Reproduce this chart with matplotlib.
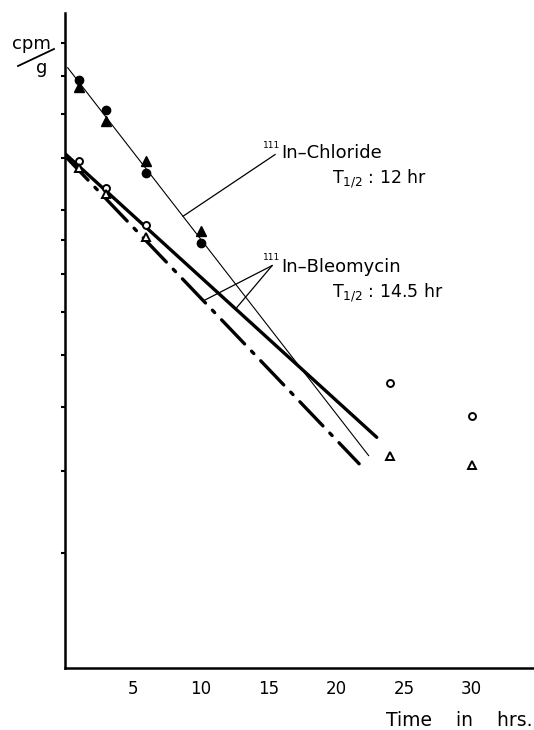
import matplotlib
matplotlib.use("Agg")
import matplotlib.pyplot as plt
from matplotlib.lines import Line2D

# ---- data ----
t_early = [1, 3, 6, 10]
chloride_circle = [15.8, 14.2, 11.4, 8.9]
chloride_triangle = [15.4, 13.7, 11.9, 9.3]

bleo_t = [1, 3, 6, 24, 30]
bleo_circle = [11.9, 10.8, 9.5, 5.45, 4.85]
bleo_triangle = [11.6, 10.6, 9.1, 4.22, 4.08]

# fitted decay lines (end points)
chloride_fit_t = [0.2, 22.4]
chloride_fit_v = [16.5, 4.22]
bleo_solid_t = [0.0, 23.0]
bleo_solid_v = [12.2, 4.5]
bleo_dashdot_t = [0.0, 21.7]
bleo_dashdot_v = [12.1, 4.1]

x_ticks = [5, 10, 15, 20, 25, 30]
y_ticks = [3, 4, 5, 6, 7, 8, 9, 10, 12, 14, 16, 18]

# ---- figure ----
W, H = 534, 730
fig = plt.figure(figsize=(W / 100, H / 100), dpi=100)
plt.rcParams['font.family'] = ['DejaVu Sans']


def fx(px):
    return px / W


def fy(py):
    return 1 - py / H


ax = fig.add_axes([fx(65), fy(668), fx(534) - fx(65), fy(13) - fy(668)])
ax.set_yscale('log')
ax.set_xlim(0, 34.6)
ax.set_ylim(2, 20)

for s in ['top', 'right']:
    ax.spines[s].set_visible(False)
for s in ['left', 'bottom']:
    ax.spines[s].set_linewidth(1.8)

ax.set_yticks(y_ticks)
ax.set_yticklabels([])
ax.yaxis.set_minor_locator(matplotlib.ticker.NullLocator())
ax.tick_params(axis='y', direction='out', length=3, width=1.5)
ax.set_xticks(x_ticks)
ax.set_xticklabels([str(v) for v in x_ticks], fontsize=12)
ax.tick_params(axis='x', length=0, pad=9)

# lines
ax.plot(chloride_fit_t, chloride_fit_v, color='black', lw=0.8)
ax.plot(bleo_solid_t, bleo_solid_v, color='black', lw=2.4, solid_capstyle='round')
ax.plot(bleo_dashdot_t, bleo_dashdot_v, color='black', lw=2.4,
        linestyle=(0, (10, 3, 1, 3)), dash_capstyle='round')

# markers
ax.plot(t_early, chloride_circle, 'o', color='black', ms=6, zorder=5)
ax.plot(t_early, chloride_triangle, '^', color='black', ms=7, zorder=5)
ax.plot(bleo_t, bleo_circle, 'o', mfc='white', mec='black', mew=1.4, ms=5, zorder=5)
ax.plot(bleo_t, bleo_triangle, '^', mfc='white', mec='black', mew=1.4, ms=6, zorder=5)

# leader lines
ax.plot([8.71, 15.5], [9.79, 12.16], color='black', lw=0.9)
ax.plot([10.26, 15.28], [7.28, 8.23], color='black', lw=0.9)
ax.plot([12.62, 15.28], [7.08, 8.23], color='black', lw=0.9)

# annotations
ax.text(15.85, 12.45, '111', fontsize=6.5, ha='right', va='baseline')
ax.text(15.95, 12.0, 'In–Chloride', fontsize=13, ha='left', va='baseline')
ax.text(19.7, 11.0, r'T$_{1/2}$ : 12 hr', fontsize=12.5, ha='left', va='baseline')

ax.text(15.85, 8.4, '111', fontsize=6.5, ha='right', va='baseline')
ax.text(15.95, 8.06, 'In–Bleomycin', fontsize=13, ha='left', va='baseline')
ax.text(19.7, 7.36, r'T$_{1/2}$ : 14.5 hr', fontsize=12.5, ha='left', va='baseline')

# axis labels
fig.text(fx(533), fy(720), 'Time    in    hrs.', fontsize=13.5, ha='right', va='center')
fig.text(fx(31), fy(44), 'cpm', fontsize=13, ha='center', va='center')
fig.text(fx(42), fy(68), 'g', fontsize=13, ha='center', va='center')
fig.add_artist(Line2D([fx(18), fx(54)], [fy(66), fy(49)], color='black', lw=1.3,
                      transform=fig.transFigure))

fig.savefig('out.png', dpi=100)
